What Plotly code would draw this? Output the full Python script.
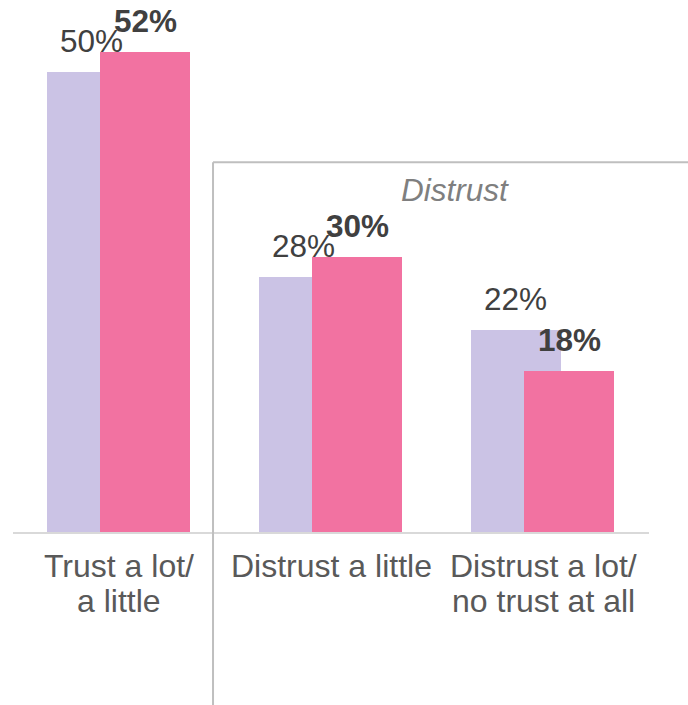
import plotly.graph_objects as go

categories = ["Trust a lot/<br>a little", "Distrust a little", "Distrust a lot/<br>no trust at all"]
# shares in percent (labels show them rounded)
series_prev = [50.0, 27.7, 22.0]
series_curr = [52.2, 29.9, 17.5]
group_label = "Distrust"

FONT = "Liberation Sans, Arial, sans-serif"
LAVENDER = "#CBC3E5"
PINK = "#F272A1"

BAR_W = 0.4245
OFF_PREV = -0.34
OFF_CURR = -0.0896

x_pos = list(range(len(categories)))

fig = go.Figure()
fig.add_trace(go.Bar(
    x=x_pos, y=series_prev, width=BAR_W, offset=OFF_PREV,
    marker_color=LAVENDER, marker_line_width=0, hoverinfo="skip",
))
fig.add_trace(go.Bar(
    x=x_pos, y=series_curr, width=BAR_W, offset=OFF_CURR,
    marker_color=PINK, marker_line_width=0, hoverinfo="skip",
))

# value labels above each bar
for i, v in enumerate(series_prev):
    fig.add_annotation(
        x=i + OFF_PREV + BAR_W / 2, y=v, text=f"{v:.0f}%", showarrow=False,
        yanchor="bottom", yshift=11,
        font=dict(family=FONT, size=31.5, color="#404040"),
    )
for i, v in enumerate(series_curr):
    fig.add_annotation(
        x=i + OFF_CURR + BAR_W / 2, y=v, text=f"<b>{v:.0f}%</b>", showarrow=False,
        yanchor="bottom", yshift=11,
        font=dict(family=FONT, size=31.5, color="#404040"),
    )

# category labels, one annotation per line to get Excel's tighter line spacing
for i, cat in enumerate(categories):
    for k, line in enumerate(cat.split("<br>")):
        fig.add_annotation(
            x=i, y=0, text=line, showarrow=False,
            yanchor="top", yshift=-14 - 35 * k,
            font=dict(family=FONT, size=32, color="#595959"),
        )

# bracket around the distrust group
fig.add_shape(type="line", xref="paper", yref="paper",
              x0=0.3145, x1=0.3145, y0=-0.33, y1=0.695,
              line=dict(color="#BFBFBF", width=2))
fig.add_shape(type="line", xref="paper", yref="paper",
              x0=0.3145, x1=1.07, y0=0.695, y1=0.695,
              line=dict(color="#BFBFBF", width=2))
fig.add_annotation(
    xref="paper", yref="paper", x=0.695, y=0.643, text=f"<i>{group_label}</i>",
    xanchor="center", yanchor="middle",
    showarrow=False, font=dict(family=FONT, size=31.5, color="#7F7F7F"),
)

fig.update_layout(
    width=688, height=705,
    margin=dict(l=13, r=39, t=0, b=173),
    paper_bgcolor="white", plot_bgcolor="white",
    barmode="overlay", bargap=0, showlegend=False,
    font=dict(family=FONT),
)
fig.update_xaxes(
    range=[-0.5, 2.5], showticklabels=False,
    showline=True, linecolor="#D9D9D9", linewidth=2,
    showgrid=False, zeroline=False, ticks="",
)
fig.update_yaxes(range=[0, 57.83], visible=False, showgrid=False, zeroline=False)

# drop the page's default body margin so the figure sits at the corner
fig.write_html(
    "out.html",
    config={"displayModeBar": False},
    post_script="document.body.style.margin='0';",
)
